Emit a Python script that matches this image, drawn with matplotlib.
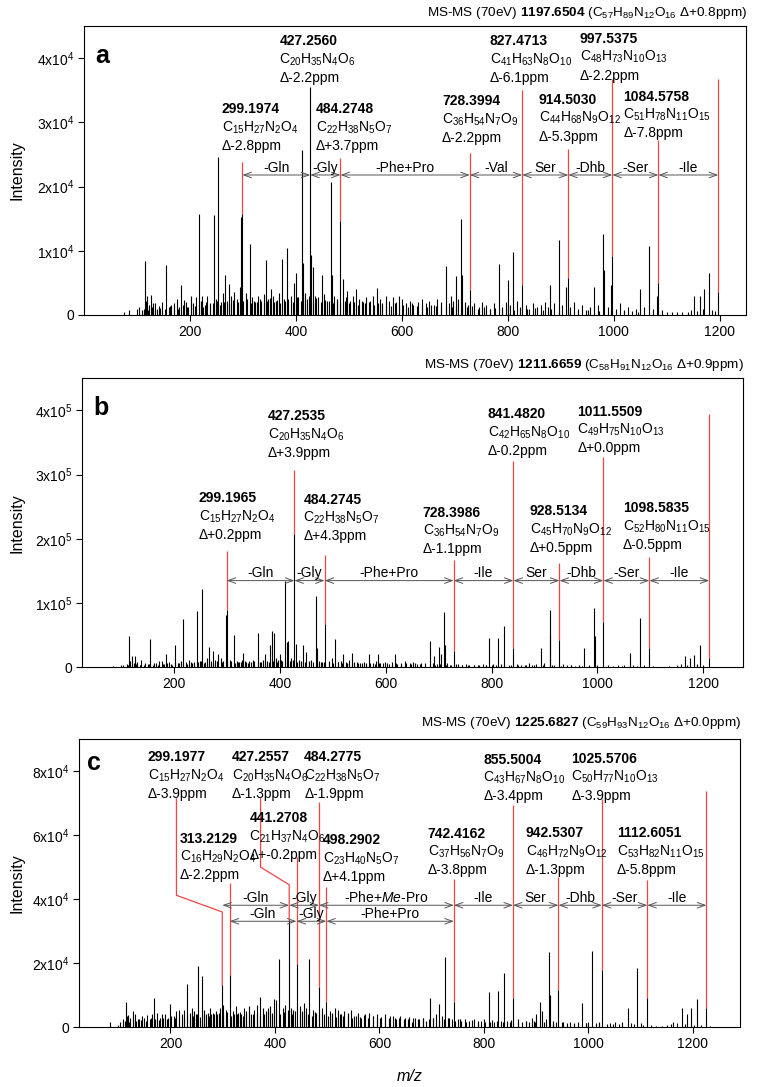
import re
import math
import matplotlib
matplotlib.use("Agg")
import matplotlib.pyplot as plt

plt.rcParams['font.family'] = ['Liberation Sans', 'DejaVu Sans']
plt.rcParams['mathtext.fontset'] = 'custom'
plt.rcParams['mathtext.rm'] = 'Liberation Sans'
plt.rcParams['mathtext.it'] = 'Liberation Sans:italic'
plt.rcParams['mathtext.bf'] = 'Liberation Sans:bold'
plt.rcParams['mathtext.default'] = 'regular'

RED = '#f04545'
GREY = '#555555'

# ---------------- panel a (intensities in units of 1e4) ----------------
frag_a_mz = [299.1974, 427.2560, 484.2748, 728.3994, 827.4713, 914.5030, 997.5375, 1084.5758, 1197.6504]
frag_a_int = [1.57, 3.55, 1.46, 0.39, 0.46, 0.57, 0.92, 0.50, 0.36]
frag_a_formula = ['C15H27N2O4', 'C20H35N4O6', 'C22H38N5O7', 'C36H54N7O9', 'C41H63N8O10',
                  'C44H68N9O12', 'C48H73N10O13', 'C51H78N11O15', 'C57H89N12O16']
frag_a_ppm = ['-2.8', '-2.2', '+3.7', '-2.2', '-6.1', '-5.3', '-2.2', '-7.8', '+0.8']
loss_a = ['-Gln', '-Gly', '-Phe+Pro', '-Val', 'Ser', '-Dhb', '-Ser', '-Ile']

peaks_a_mz = [75, 85, 101, 114.6, 119.6, 126, 135, 154.9, 170, 183.8, 189, 201.4, 217, 223.5, 245.5,
              253.7, 265.6, 273.8, 283, 294.6, 296.5, 312.9, 343.7, 353.8, 374.6, 384, 396.6, 401, 411,
              413.6, 429.5, 431.5, 448.8, 465.8, 467.5, 489, 497, 513, 552.7, 570, 595, 684, 693, 701.6,
              712.3, 714, 782.9, 800.5, 810.6, 880, 897.5, 911, 963, 980.7, 982.5, 994.5, 1050, 1067.6,
              1082, 1152, 1162.7, 1171, 1180.4]
peaks_a_int = [0.05, 0.08, 0.10, 0.84, 0.29, 0.31, 0.18, 0.78, 0.19, 0.46, 0.23, 0.29, 1.57, 0.29, 1.56,
               2.46, 0.62, 0.49, 0.36, 0.44, 1.53, 1.11, 0.86, 0.40, 0.87, 1.05, 0.50, 0.65, 2.57,
               0.81, 0.93, 0.74, 0.63, 2.07, 0.62, 0.56, 0.38, 0.41, 0.42, 0.30, 0.30, 0.77, 0.29, 0.61,
               1.50, 0.63, 0.79, 0.55, 0.98, 0.46, 1.17, 0.44, 0.43, 1.26, 0.70, 0.47, 0.40, 1.07,
               0.30, 0.30, 0.30, 0.41, 0.65]

grass_a_mz = [104, 109, 117, 123, 130, 137, 142, 148, 160, 165, 175, 180, 193, 197, 206, 212, 221, 228,
              233, 238, 249, 258, 262, 270, 278, 288, 306, 318, 322, 328, 335, 339, 348, 357, 362, 368,
              378, 390, 405, 418, 422, 436, 442, 454, 458, 472, 478, 494, 503, 508, 520, 526, 532, 540,
              546, 558, 563, 575, 583, 590, 600, 608, 615, 622, 630, 638, 645, 652, 660, 666, 675, 690,
              697, 707, 720, 725, 737, 745, 752, 760, 767, 775, 790, 797, 805, 818, 823, 834, 840, 848,
              856, 863, 870, 876, 888, 903, 918, 925, 932, 940, 948, 955, 970, 990, 1005, 1013, 1020,
              1028, 1035, 1042, 1058, 1075, 1092, 1100, 1110, 1120, 1130, 1140, 1146, 1158, 1168, 1186, 1192]
grass_a_int = [.12, .08, .22, .15, .18, .10, .14, .20, .12, .16, .25, .13, .20, .12, .18, .28, .22, .15,
               .30, .18, .25, .20, .35, .22, .30, .25, .35, .28, .20, .30, .22, .32, .25, .30, .22, .35,
               .25, .30, .28, .35, .25, .30, .28, .32, .22, .30, .25, .28, .22, .30, .25, .20, .28, .22,
               .30, .25, .18, .22, .28, .20, .25, .18, .22, .15, .20, .25, .18, .22, .15, .25, .20, .18,
               .22, .25, .20, .15, .18, .12, .20, .15, .10, .18, .12, .20, .15, .22, .12, .15, .10, .18,
               .12, .15, .20, .12, .18, .15, .12, .20, .10, .15, .08, .12, .15, .12, .10, .18, .08,
               .12, .06, .10, .12, .10, .08, .05, .04, .05, .04, .05, .08, .06, .10, .08, .06]

# low baseline noise positions (shared m/z grid)
noise_mz = [113, 121, 128, 135, 143, 153, 162, 170, 178, 186,
            194, 202, 209, 217, 225, 231, 237, 244, 251, 257,
            265, 273, 281, 290, 300, 308, 315, 321, 327, 333,
            339, 345, 351, 358, 365, 371, 379, 386, 394, 402,
            409, 418, 425, 432, 439, 447, 455, 463, 470, 477,
            484, 493, 501, 509, 517, 524, 531, 539, 547, 555,
            563, 571, 579, 587, 595, 603, 611, 620, 629, 638,
            647, 656, 665, 674, 683, 694, 703, 714, 723, 733,
            744, 755, 766, 777, 789, 800, 812, 824, 837, 851,
            866, 881, 897, 914, 932, 951, 972, 995, 1020, 1046]
noise_a_int = [.10, .08, .12, .09, .11, .10, .14, .12, .10, .15,
               .12, .18, .14, .16, .12, .20, .15, .18, .22, .16,
               .20, .18, .24, .20, .22, .25, .18, .22, .20, .25,
               .18, .22, .26, .20, .24, .18, .22, .25, .20, .28,
               .22, .25, .30, .22, .26, .20, .24, .22, .18, .25,
               .20, .22, .18, .20, .16, .22, .18, .20, .15, .18,
               .16, .20, .14, .18, .15, .16, .12, .18, .14, .15,
               .12, .16, .14, .12, .15, .12, .14, .10, .12, .14,
               .10, .12, .09, .11, .10, .12, .08, .10, .09, .11,
               .08, .10, .08, .09, .07, .08, .06, .07, .06, .05]

# ---------------- panel b (intensities in units of 1e5) ----------------
frag_b_mz = [299.1965, 427.2535, 484.2745, 728.3986, 841.4820, 928.5134, 1011.5509, 1098.5835, 1211.6659]
frag_b_int = [0.89, 2.08, 0.68, 0.25, 0.30, 0.43, 0.70, 0.30, 0.15]
frag_b_formula = ['C15H27N2O4', 'C20H35N4O6', 'C22H38N5O7', 'C36H54N7O9', 'C42H65N8O10',
                  'C45H70N9O12', 'C49H75N10O13', 'C52H80N11O15', 'C58H91N12O16']
frag_b_ppm = ['+0.2', '+3.9', '+4.3', '-1.1', '-0.2', '+0.5', '+0.0', '-0.5', '+0.9']
loss_b = ['-Gln', '-Gly', '-Phe+Pro', '-Ile', 'Ser', '-Dhb', '-Ser', '-Ile']

peaks_b_mz = [84.6, 100, 114.9, 119.3, 125.6, 138, 154.6, 171, 184.2, 201.3, 215.8, 243.5, 252.4, 265.6,
              273.8, 283.3, 297, 313, 330.6, 357.7, 371.6, 381, 385.5, 388.6, 400, 408.8, 412.6, 416,
              430, 443, 449, 467.5, 470.6, 504, 520, 535.6, 569, 586, 617, 683.3, 692, 700.9, 705, 711,
              712.5, 795, 813.1, 824.4, 892.8, 909.7, 911.5, 975.5, 993, 995, 1062, 1080.2, 1165.5,
              1175, 1183, 1193.7]
peaks_b_int = [0.02, 0.03, 0.48, 0.17, 0.17, 0.12, 0.44, 0.10, 0.20, 0.34, 0.75, 0.88, 1.22, 0.32,
               0.26, 0.20, 0.82, 0.51, 0.23, 0.54, 0.20, 0.34, 0.565, 0.53, 0.20, 1.34, 0.40, 0.41,
               0.37, 0.35, 0.24, 1.11, 0.30, 0.44, 0.20, 0.23, 0.20, 0.20, 0.20, 0.41, 0.18, 0.31, 0.20, 0.86,
               0.35, 0.45, 0.46, 0.65, 0.30, 0.89, 0.50, 0.30, 0.93, 0.48, 0.23, 0.77, 0.18,
               0.15, 0.19, 0.34]

grass_b_mz = [104, 110, 117, 123, 130, 135, 144, 150, 160, 166, 176, 181, 190, 196, 207, 212, 222, 228,
              233, 238, 248, 258, 262, 270, 278, 288, 293, 306, 318, 322, 328, 336, 341, 348, 363, 367,
              376, 392, 396, 404, 420, 424, 436, 440, 454, 458, 474, 479, 492, 498, 510, 516, 526, 531,
              540, 546, 552, 558, 563, 575, 582, 590, 598, 606, 612, 622, 628, 636, 645, 652, 660, 667,
              675, 690, 697, 716, 722, 737, 745, 752, 758, 767, 775, 783, 790, 803, 808, 818, 834, 848,
              856, 863, 870, 877, 885, 900, 918, 935, 942, 950, 958, 966, 985, 1000, 1020, 1030, 1040,
              1050, 1068, 1075, 1088, 1105, 1120, 1135, 1150, 1158, 1170, 1188, 1200]
grass_b_int = [.03, .05, .10, .06, .08, .04, .06, .05, .04, .07, .10, .05, .08, .04, .06, .10, .08, .12,
               .06, .09, .10, .08, .14, .10, .12, .15, .10, .12, .10, .08, .12, .08, .10, .12, .08, .12,
               .10, .14, .12, .10, .15, .10, .12, .08, .10, .12, .10, .08, .10, .14, .08, .10, .07, .12,
               .06, .09, .07, .08, .05, .07, .10, .06, .08, .05, .09, .05, .07, .10, .06, .08, .05, .07,
               .06, .07, .05, .06, .04, .05, .04, .05, .03, .04, .03, .05, .03, .05, .03, .05, .04, .05,
               .03, .04, .06, .04, .05, .06, .04, .05, .03, .04, .02, .03, .04, .03, .04, .02, .03,
               .04, .03, .02, .03, .02, .01, .02, .03, .05, .04, .05, .03]
noise_b_int = [.04, .03, .05, .04, .03, .05, .06, .04, .05, .07,
               .05, .08, .06, .07, .05, .09, .06, .08, .10, .07,
               .08, .07, .10, .08, .09, .10, .07, .09, .08, .10,
               .07, .09, .10, .08, .09, .07, .09, .10, .08, .11,
               .09, .10, .12, .09, .10, .08, .09, .08, .07, .09,
               .08, .09, .07, .08, .06, .08, .07, .08, .06, .07,
               .06, .07, .05, .07, .06, .06, .05, .06, .05, .06,
               .05, .06, .05, .04, .05, .04, .05, .04, .04, .05,
               .04, .04, .03, .04, .03, .04, .03, .04, .03, .04,
               .03, .04, .03, .03, .02, .03, .02, .03, .02, .02]

# ---------------- panel c (intensities in units of 1e4) ----------------
frag_c_mz = [299.1977, 313.2129, 427.2557, 441.2708, 484.2775, 498.2902, 742.4162, 855.5004,
             942.5307, 1025.5706, 1112.6051, 1225.6827]
frag_c_int = [1.32, 1.63, 3.35, 1.99, 1.27, 0.80, 0.80, 0.93, 1.15, 1.78, 0.93, 0.60]
frag_c_formula = ['C15H27N2O4', 'C16H29N2O4', 'C20H35N4O6', 'C21H37N4O6', 'C22H38N5O7', 'C23H40N5O7',
                  'C37H56N7O9', 'C43H67N8O10', 'C46H72N9O12', 'C50H77N10O13', 'C53H82N11O15',
                  'C59H93N12O16']
frag_c_ppm = ['-3.9', '-2.2', '-1.3', '+-0.2', '-1.9', '+4.1', '-3.8', '-3.4', '-1.3', '-3.9', '-5.8', '+0.0']
loss_c1 = ['-Gln', '-Gly', '-Phe+$\\mathit{Me}$-Pro', '-Ile', 'Ser', '-Dhb', '-Ser', '-Ile']
loss_c2 = ['-Gln', '-Gly', '-Phe+Pro']

peaks_c_mz = [84.5, 99, 115.1, 119.6, 129, 140.6, 155.3, 169.3, 184, 200, 216, 231.2, 246, 253, 260, 268,
              278, 284, 292, 301.4, 335, 354.4, 372.2, 386.3, 394, 399, 402.8, 408.6, 430, 456.4, 466,
              515, 661.7, 696, 707.6, 714.6, 724.8, 809, 827.4, 837.6, 891, 899, 906.4, 912, 924,
              925.5, 988.5, 1007, 1075.8, 1093.6, 1161.8, 1179, 1189, 1196.8, 1207]
peaks_c_int = [0.17, 0.08, 0.78, 0.39, 0.50, 0.25, 0.38, 0.90, 0.43, 0.74, 0.54, 1.34, 0.50, 1.92, 1.61,
               0.40, 0.40, 0.40, 0.45, 0.70, 0.40, 0.40, 0.95, 0.60, 0.45, 0.87, 0.85, 2.12, 0.60, 0.75,
               2.12, 0.60, 0.15, 0.93, 0.42, 0.74, 2.18, 1.10, 1.13, 1.71, 0.30, 0.40, 0.80, 0.50, 2.34,
               1.00, 0.77, 2.38, 0.60, 1.86, 0.15, 0.60, 0.40, 0.60, 0.88]

grass_c_mz = [104, 110, 117, 123, 133, 137, 145, 150, 160, 164, 175, 180, 190, 196, 206, 211, 222, 226,
              237, 242, 249, 264, 272, 276, 288, 295, 306, 320, 325, 330, 340, 345, 350, 360, 365, 378,
              382, 390, 416, 420, 435, 447, 451, 460, 472, 478, 490, 505, 510, 520, 526, 532, 540, 546,
              552, 558, 565, 572, 580, 588, 595, 602, 610, 618, 625, 632, 640, 648, 655, 668, 675, 684,
              690, 702, 719, 732, 738, 750, 756, 764, 772, 780, 788, 795, 802, 816, 820, 832, 845, 850,
              865, 872, 880, 887, 895, 918, 932, 938, 950, 958, 965, 972, 980, 995, 1000, 1015, 1020,
              1035, 1042, 1050, 1058, 1065, 1082, 1088, 1100, 1105, 1120, 1130, 1140, 1150, 1158, 1170,
              1185, 1202, 1215, 1232]
grass_c_int = [.15, .25, .35, .30, .40, .25, .35, .30, .25, .40, .45, .30, .40, .30, .35, .50, .40, .55,
               .45, .60, .40, .55, .45, .60, .50, .60, .55, .50, .65, .45, .60, .50, .65, .55, .70, .60,
               .50, .65, .60, .70, .55, .65, .50, .60, .55, .45, .60, .50, .45, .55, .40, .50, .45, .55,
               .35, .45, .30, .40, .45, .35, .40, .30, .40, .30, .35, .25, .35, .30, .25, .30, .25, .30,
               .20, .30, .35, .30, .25, .25, .20, .25, .20, .25, .15, .20, .18, .22, .15, .20, .20, .15,
               .25, .15, .20, .15, .20, .25, .20, .15, .15, .12, .15, .10, .15, .12, .15, .12, .15,
               .10, .12, .15, .10, .15, .12, .10, .12, .08, .06, .05, .04, .06, .10, .12,
               .10, .08, .06, .05]
noise_c_int = [.20, .15, .25, .20, .22, .20, .28, .25, .22, .30,
               .25, .35, .30, .32, .28, .40, .30, .35, .42, .32,
               .40, .35, .45, .40, .42, .48, .35, .42, .40, .48,
               .35, .42, .50, .40, .45, .35, .42, .48, .40, .52,
               .42, .48, .55, .42, .50, .40, .45, .42, .35, .48,
               .40, .42, .35, .40, .32, .42, .35, .40, .30, .35,
               .32, .38, .28, .35, .30, .32, .25, .35, .28, .30,
               .25, .32, .28, .25, .30, .25, .28, .20, .25, .28,
               .20, .25, .18, .22, .20, .25, .16, .20, .18, .22,
               .16, .20, .16, .18, .14, .16, .12, .14, .12, .10]

# ---------------- layout (not data) ----------------
# label anchor: left edge / centre of bold line, (m/z, intensity in panel units)
label_a_xy = [(260, 3.2), (369, 4.26), (438, 3.2), (676, 3.33), (766, 4.26), (859, 3.35), (936, 4.3), (1018, 3.4)]
red_top_a = [2.39, 3.55, 2.45, 2.52, 3.50, 2.58, 3.67, 2.73, 3.67]
label_b_xy = [(246, 2.63), (377, 3.91), (444, 2.61), (670, 2.41), (793, 3.94), (872, 2.43), (962, 3.98), (1048, 2.48)]
red_top_b = [1.81, 3.07, 1.75, 1.67, 3.22, 1.62, 3.28, 1.71, 3.94]
label_c_xy = [(157, 8.43), (218, 5.89), (317, 8.43), (351, 6.53), (456, 8.43), (492, 5.84), (692, 6.04),
              (799, 8.35), (880, 6.06), (967, 8.38), (1054, 6.06)]
red_top_c = [7.13, 4.49, 7.13, 5.31, 7.03, 4.38, 4.64, 6.93, 4.69, 7.13, 4.59, 7.39]
leaders_c = {0: [(299.2, 3.60), (211.5, 4.12), (211.5, 7.13)],
             2: [(427.3, 4.45), (372.5, 5.00), (372.5, 7.13)]}

W, H = 757, 1087


def sub(f):
    return re.sub(r'(\d+)', r'$_{\1}$', f)


def sci(v, pos):
    if v == 0:
        return '0'
    e = int(math.floor(math.log10(v) + 1e-9))
    m = int(round(v / 10 ** e))
    return '%dx10$^{%d}$' % (m, e)


def make_axes(fig, box, xlim, ylim, yticks):
    l, t, r, b = box
    ax = fig.add_axes([l / W, 1 - b / H, (r - l) / W, (b - t) / H])
    ax.set_xlim(*xlim)
    ax.set_ylim(0, ylim)
    ax.set_xticks([200, 400, 600, 800, 1000, 1200])
    ax.set_yticks(yticks)
    ax.yaxis.set_major_formatter(plt.FuncFormatter(sci))
    ax.tick_params(direction='out', length=4, width=0.8, labelsize=10, pad=3)
    for s in ax.spines.values():
        s.set_linewidth(0.8)
    return ax


def draw_spectrum(ax, scale, pmz, pint, gmz, gint, nint, fmz, fint):
    ax.vlines(noise_mz, 0, [v * scale for v in nint], color='black', lw=0.8)
    ax.vlines(gmz, 0, [v * scale for v in gint], color='black', lw=0.8)
    ax.vlines(pmz, 0, [v * scale for v in pint], color='black', lw=0.8)
    ax.vlines(fmz, 0, [v * scale for v in fint], color='black', lw=0.8, zorder=3)


def draw_red(ax, scale, fmz, fint, tops, leaders={}):
    for i, mz in enumerate(fmz):
        if i in leaders:
            pts = [(mz, fint[i])] + leaders[i]
            ax.plot([p[0] for p in pts], [p[1] * scale for p in pts], color=RED, lw=0.9, zorder=2)
        elif tops[i] > fint[i]:
            ax.vlines(mz, fint[i] * scale, tops[i] * scale, color=RED, lw=0.9, zorder=2)


def draw_labels(ax, scale, fmz, formulas, ppms, xy):
    for i, (x, y) in enumerate(xy):
        kw = dict(xy=(x, y * scale), textcoords='offset points', ha='left', va='center', fontsize=10)
        ax.annotate('%.4f' % fmz[i], xytext=(0, 0), fontweight='bold', **kw)
        ax.annotate(sub(formulas[i]), xytext=(0, -13.2), **kw)
        ax.annotate('\u0394' + ppms[i] + 'ppm', xytext=(0, -26.4), **kw)


def draw_arrows(ax, scale, pts, names, y):
    for i, name in enumerate(names):
        x1, x2 = pts[i], pts[i + 1]
        ax.annotate('', xy=(x2, y * scale), xytext=(x1, y * scale),
                    arrowprops=dict(arrowstyle='<->,head_length=0.55,head_width=0.2',
                                    color=GREY, lw=0.7, shrinkA=0, shrinkB=0))
        ax.annotate(name, xy=((x1 + x2) / 2, y * scale), xytext=(0, 2.5), textcoords='offset points',
                    ha='center', va='baseline', fontsize=10)


def title(ax, fmz, formula, ppm, dy):
    txt = 'MS-MS (70eV) $\\mathbf{%.4f}$ (%s \u0394%sppm)' % (fmz, sub(formula), ppm)
    ax.annotate(txt, xy=(1, 1), xycoords='axes fraction', xytext=(1, dy), textcoords='offset points',
                ha='right', va='center', fontsize=9.7)


fig = plt.figure(figsize=(W / 100, H / 100), dpi=100)

# panel a
ax = make_axes(fig, (84, 26, 746, 315), (0, 1250), 4.5e4, [0, 1e4, 2e4, 3e4, 4e4])
draw_spectrum(ax, 1e4, peaks_a_mz, peaks_a_int, grass_a_mz, grass_a_int, noise_a_int, frag_a_mz, frag_a_int)
draw_red(ax, 1e4, frag_a_mz, frag_a_int, red_top_a)
draw_labels(ax, 1e4, frag_a_mz, frag_a_formula, frag_a_ppm, label_a_xy)
draw_arrows(ax, 1e4, frag_a_mz, loss_a, 2.18)
title(ax, frag_a_mz[-1], frag_a_formula[-1], frag_a_ppm[-1], 9.2)
ax.text(0.017, 0.871, 'a', transform=ax.transAxes, fontsize=18, fontweight='bold', va='baseline')

# panel b
ax = make_axes(fig, (81.7, 378.3, 742.7, 667.3), (25, 1275), 4.5e5, [0, 1e5, 2e5, 3e5, 4e5])
draw_spectrum(ax, 1e5, peaks_b_mz, peaks_b_int, grass_b_mz, grass_b_int, noise_b_int, frag_b_mz, frag_b_int)
draw_red(ax, 1e5, frag_b_mz, frag_b_int, red_top_b)
draw_labels(ax, 1e5, frag_b_mz, frag_b_formula, frag_b_ppm, label_b_xy)
draw_arrows(ax, 1e5, frag_b_mz, loss_b, 1.35)
title(ax, frag_b_mz[-1], frag_b_formula[-1], frag_b_ppm[-1], 9.6)
ax.text(0.017, 0.873, 'b', transform=ax.transAxes, fontsize=18, fontweight='bold', va='baseline')

# panel c
ax = make_axes(fig, (79, 739, 740, 1027.3), (25, 1290), 9e4, [0, 2e4, 4e4, 6e4, 8e4])
draw_spectrum(ax, 1e4, peaks_c_mz, peaks_c_int, grass_c_mz, grass_c_int, noise_c_int, frag_c_mz, frag_c_int)
draw_red(ax, 1e4, frag_c_mz, frag_c_int, red_top_c, leaders_c)
draw_labels(ax, 1e4, frag_c_mz, frag_c_formula, frag_c_ppm, label_c_xy)
row1 = [frag_c_mz[i] for i in (0, 2, 4, 6, 7, 8, 9, 10, 11)]
row2 = [frag_c_mz[i] for i in (1, 3, 5, 6)]
draw_arrows(ax, 1e4, row1, loss_c1, 3.81)
draw_arrows(ax, 1e4, row2, loss_c2, 3.31)
title(ax, frag_c_mz[-1], frag_c_formula[-1], frag_c_ppm[-1], 11.7)
ax.text(0.0126, 0.892, 'c', transform=ax.transAxes, fontsize=18, fontweight='bold', va='baseline')

for yc in (170.5, 522.8, 883):
    fig.text(17 / W, 1 - yc / H, 'Intensity', rotation=90, ha='center', va='center', fontsize=11.5)
fig.text(410 / W, 1 - 1076.7 / H, 'm/z', ha='center', va='center', fontsize=11.5, style='italic')

fig.savefig('out.png', dpi=100)
